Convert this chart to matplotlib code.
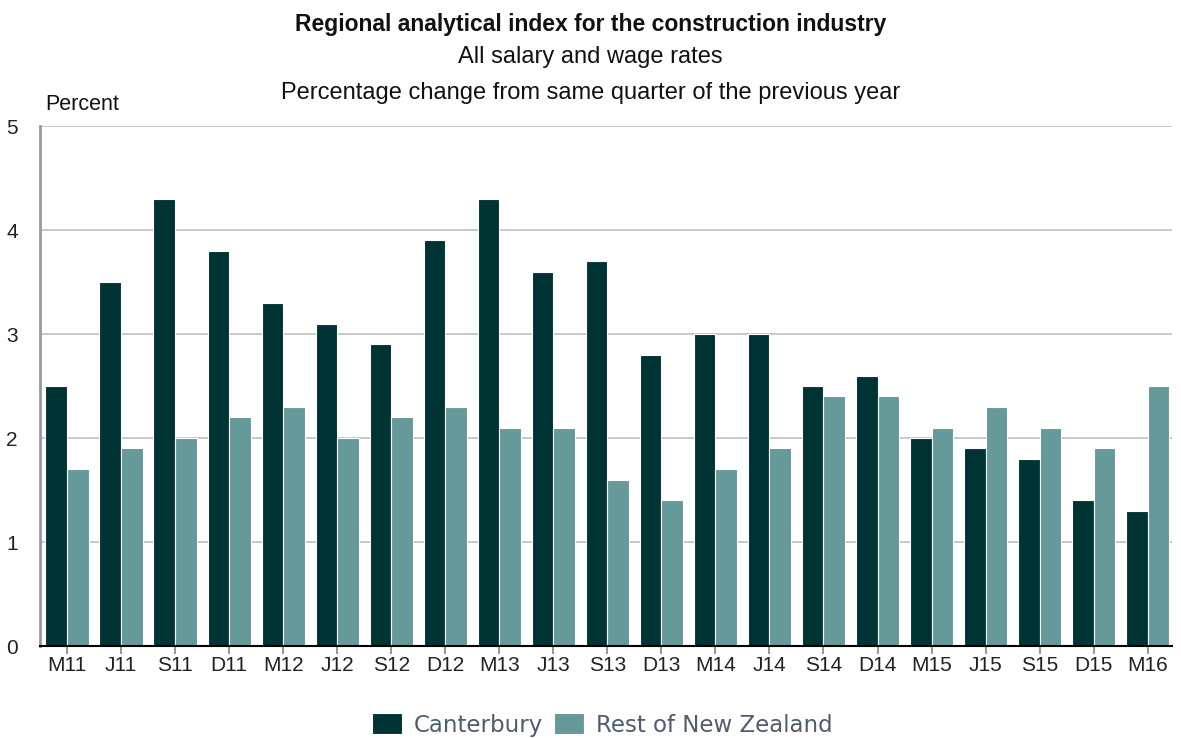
import matplotlib.pyplot as plt
import numpy as np

quarters = ["M11", "J11", "S11", "D11", "M12", "J12", "S12", "D12", "M13", "J13",
            "S13", "D13", "M14", "J14", "S14", "D14", "M15", "J15", "S15", "D15", "M16"]
canterbury = [2.5, 3.5, 4.3, 3.8, 3.3, 3.1, 2.9, 3.9, 4.3, 3.6,
              3.7, 2.8, 3.0, 3.0, 2.5, 2.6, 2.0, 1.9, 1.8, 1.4, 1.3]
rest_nz = [1.7, 1.9, 2.0, 2.2, 2.3, 2.0, 2.2, 2.3, 2.1, 2.1,
           1.6, 1.4, 1.7, 1.9, 2.4, 2.4, 2.1, 2.3, 2.1, 1.9, 2.5]

plt.rcParams['font.family'] = ['Liberation Sans', 'DejaVu Sans']

fig = plt.figure(figsize=(11.81, 7.38), dpi=100)
ax = fig.add_axes([40 / 1181, 1 - 646 / 738, 1132 / 1181, 520 / 738])

x = np.arange(len(quarters))
w = 0.4
ax.bar(x - w / 2, canterbury, w, color='#003333', edgecolor='white', linewidth=0.8,
       label='Canterbury', zorder=3)
ax.bar(x + w / 2, rest_nz, w, color='#669999', edgecolor='white', linewidth=0.8,
       label='Rest of New Zealand', zorder=3)

ax.set_xlim(-0.5, 20.45)
ax.set_ylim(0, 5)
ax.set_yticks(range(6))
ax.set_xticks(x)
ax.set_xticklabels(quarters)
ax.tick_params(axis='x', length=6, width=1.5, color='#999999', labelsize=15, pad=1,
               labelcolor='#222222')
ax.tick_params(axis='y', length=0, labelsize=15, pad=16, labelcolor='#222222')
ax.yaxis.grid(True, color='#c0c0c0', linewidth=1.2, zorder=0)
for s in ['top', 'right']:
    ax.spines[s].set_visible(False)
ax.spines['left'].set_color('#999999')
ax.spines['left'].set_linewidth(2)
ax.spines['bottom'].set_color('black')
ax.spines['bottom'].set_linewidth(1.5)
ax.spines['bottom'].set_zorder(4)

fig.text(0.5, 1 - 25 / 738, "Regional analytical index for the construction industry",
         ha='center', va='center', fontsize=16.5, fontweight='bold', color='#111111')
fig.text(0.5, 1 - 57 / 738, "All salary and wage rates", ha='center', va='center',
         fontsize=17, color='#111111')
fig.text(0.5, 1 - 93 / 738, "Percentage change from same quarter of the previous year",
         ha='center', va='center', fontsize=17, color='#111111')
fig.text(45 / 1181, 1 - 104 / 738, "Percent", ha='left', va='center', fontsize=15.5,
         color='#111111')

leg = fig.legend(loc='center', bbox_to_anchor=(0.51, 1 - 725 / 738), ncol=2, frameon=False,
                 fontsize=16.5, handlelength=1.3, handleheight=1.0, handletextpad=0.52,
                 columnspacing=0.48, borderaxespad=0)
for t in leg.get_texts():
    t.set_color('#4d5d6e')
    t.set_family(['DejaVu Sans'])

fig.savefig('out.png', dpi=100)
